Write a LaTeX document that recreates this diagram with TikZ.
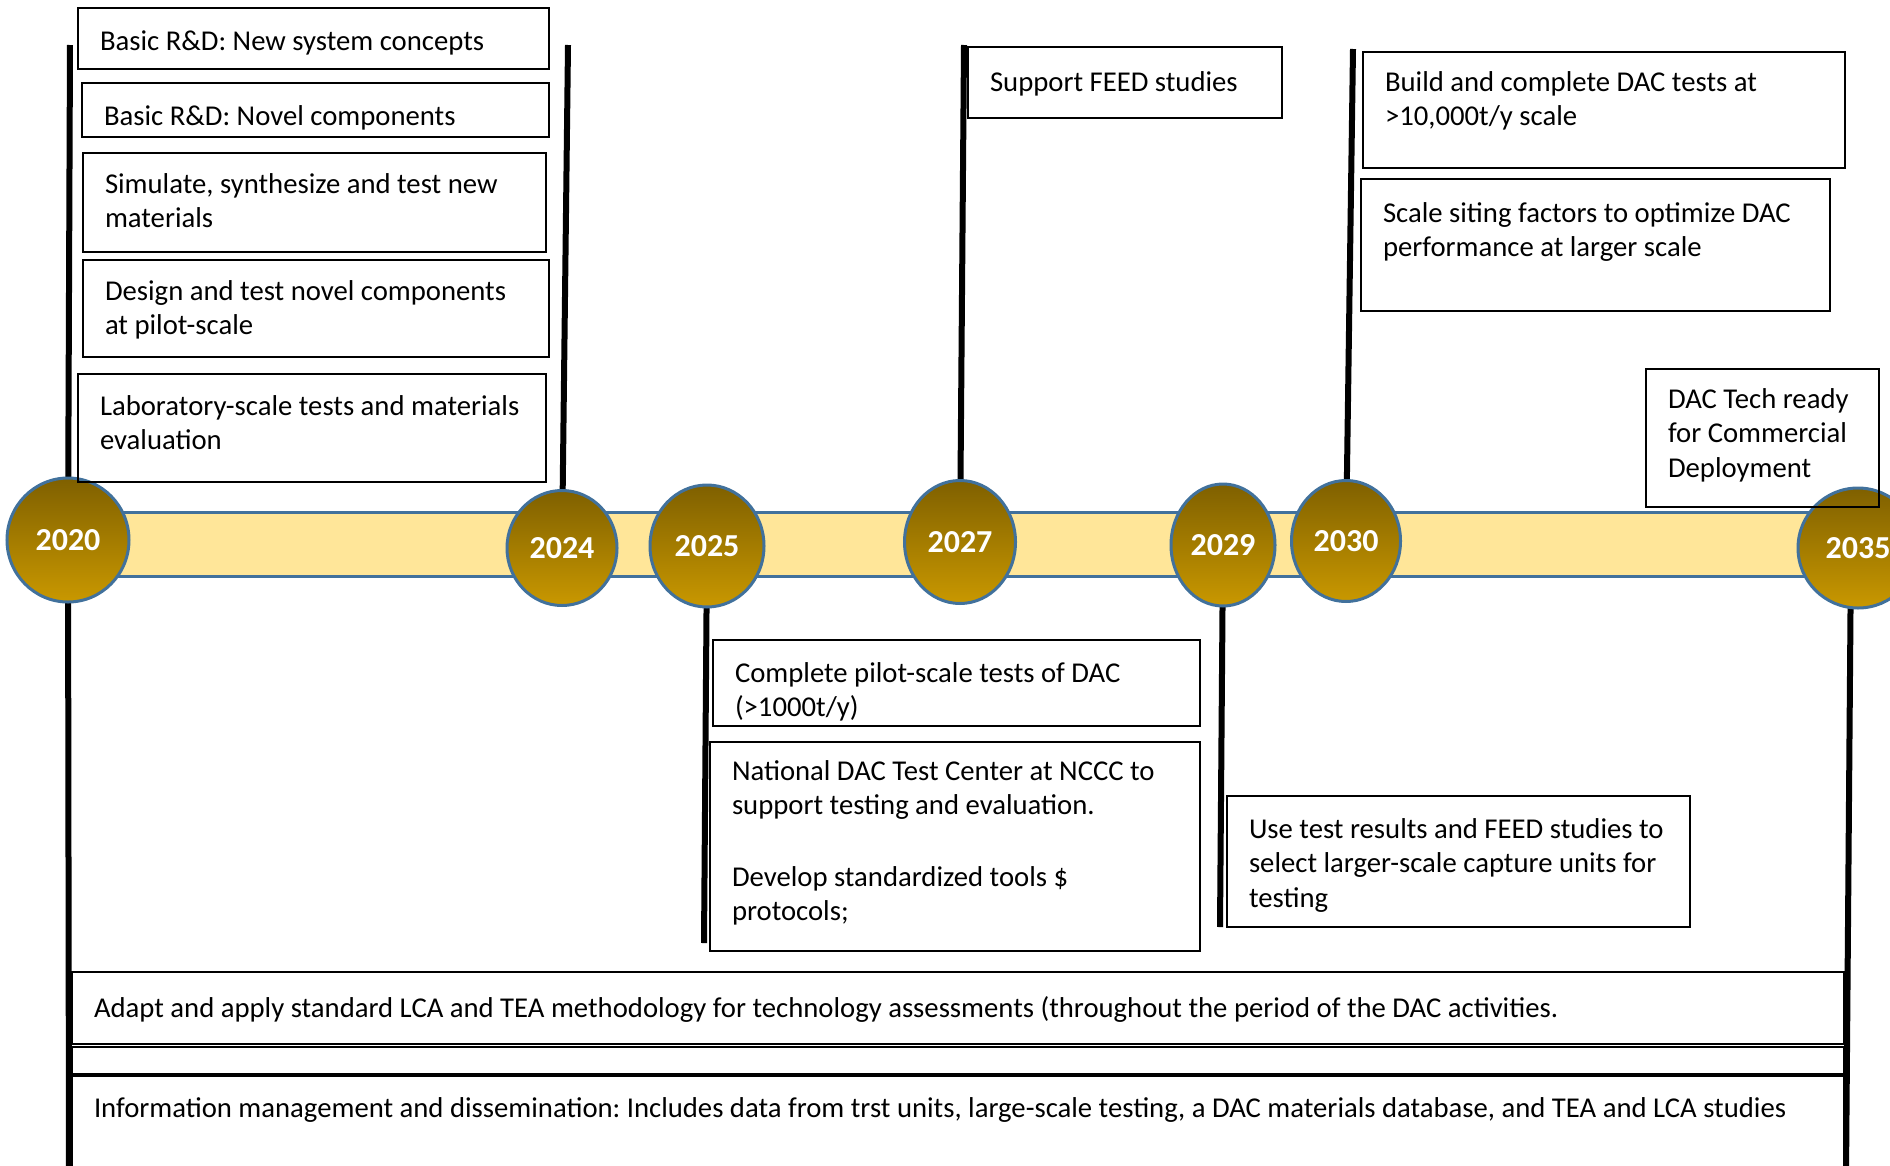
\documentclass[tikz,border=0pt]{standalone}
\usepackage{fontspec}
\setmainfont{Carlito}
\usetikzlibrary{shapes.geometric,backgrounds}
\definecolor{trackfill}{RGB}{255,230,153}
\definecolor{trackline}{RGB}{65,113,156}
\definecolor{balltop}{RGB}{127,96,0}
\definecolor{ballbot}{RGB}{201,152,0}
\newcommand{\boxfont}{\fontsize{28.7}{34.5}\selectfont}
\newcommand{\yearfont}{\fontsize{32}{38}\selectfont\bfseries}
\begin{document}
\begin{tikzpicture}[x=1pt,y=-1pt,
    box/.style={draw,line width=2.5pt,inner xsep=22pt,inner ysep=0pt,outer sep=0pt,
      anchor=north west,align=left,font=\boxfont,
      execute at begin node={\spaceskip=.226em\xspaceskip=.226em\relax}},
    yearball/.style={ellipse,draw=trackline,line width=3pt,top color=balltop,
      bottom color=ballbot,inner sep=0pt,text=white,font=\yearfont},
    stem/.style={line width=6pt}]
    \useasboundingbox (0,0) rectangle (1890,1165);
    \clip (0,0) rectangle (1890,1165);
    % time line
    \node[draw=trackline,fill=trackfill,line width=3pt,minimum width=1789pt,
      minimum height=64pt,inner sep=0pt,anchor=west] (track) at (69,544) {};
    \node[yearball,minimum width=122pt,minimum height=124pt] (y2020) at (68,540) {2020};
    \node[yearball,minimum width=110pt,minimum height=115pt] (y2024) at (562,548) {2024};
    \node[yearball,minimum width=114pt,minimum height=122pt] (y2025) at (707,546) {2025};
    \node[yearball,minimum width=111pt,minimum height=123pt] (y2027) at (960,542) {2027};
    \node[yearball,minimum width=104pt,minimum height=122pt] (y2029) at (1223,545) {2029};
    \node[yearball,minimum width=109pt,minimum height=121pt] (y2030) at (1346,541) {2030};
    \node[yearball,minimum width=120pt,minimum height=120pt] (y2035) at (1858,548) {2035};
    % 2020 - 2024
    \node[box,text width=427pt,text height=42pt,text depth=19pt] (rdsys) at (78,8)
      {Basic R\&D: New system concepts};
    \node[box,text width=423pt,text height=42pt,text depth=12pt] (rdcomp) at (82,83)
      {Basic R\&D: Novel components};
    \node[box,text width=419pt,text height=40pt,text depth=59pt] (simul) at (83,153)
      {Simulate, synthesize and test new\\materials};
    \node[box,text width=422pt,text height=40pt,text depth=57pt] (design) at (83,260)
      {Design and test novel components\\at pilot-scale};
    \node[box,text width=424pt,text height=41pt,text depth=67pt] (labtest) at (78,374)
      {Laboratory-scale tests and materials\\evaluation};
    % 2025
    \node[box,text width=443pt,text height=42pt,text depth=44pt] (pilot) at (713,640)
      {Complete pilot-scale tests of DAC\\(>1000t/y)};
    \node[box,text width=446pt,text height=38pt,text depth=171pt] (center) at (710,742)
      {National DAC Test Center at NCCC to\\support testing and evaluation.\\[37pt]Develop standardized tools \$\\protocols;};
    % 2027 - 2030
    \node[box,text width=270pt,text height=44pt,text depth=27pt] (feed) at (968,47)
      {Support FEED studies};
    \node[box,text width=419pt,text height=42pt,text depth=89pt] (select) at (1227,796)
      {Use test results and FEED studies to\\select larger-scale capture units for\\testing};
    \node[box,text width=438pt,text height=39pt,text depth=77pt] (build) at (1363,52)
      {Build and complete DAC tests at\\>10,000t/y scale};
    \node[box,text width=425pt,text height=43pt,text depth=89pt] (siting) at (1361,179)
      {Scale siting factors to optimize DAC\\performance at larger scale};
    \node[box,text width=189pt,text height=39pt,text depth=99pt] (ready) at (1646,369)
      {DAC Tech ready\\for Commercial\\Deployment};
    % whole period
    \node[box,text width=1728pt,text height=45pt,text depth=27pt] (lca) at (72,972)
      {Adapt and apply standard LCA and TEA methodology for technology assessments (throughout the period of the DAC activities.};
    \node[box,minimum width=1772pt,minimum height=27pt,inner sep=0pt] (gap) at (72,1047) {};
    \node[box,text width=1728pt,text height=41pt,text depth=83pt] (info) at (72,1076)
      {Information management and dissemination: Includes data from trst units, large-scale testing, a DAC materials database, and TEA and LCA studies};
    % stems
    \coordinate (top2020) at (70,45);
    \coordinate (bot2020) at (69,1175);
    \coordinate (top2024) at (568,45);
    \coordinate (bot2025) at (704,943);
    \coordinate (top2027) at (964,45);
    \coordinate (bot2029) at (1220,927);
    \coordinate (top2030) at (1353,49);
    \coordinate (bot2035) at (1846,1175);
    \begin{scope}[on background layer]
      \draw[stem] (top2020) -- (y2020.center) -- (bot2020);
      \draw[stem] (top2024) -- (y2024.center);
      \draw[stem] (y2025.center) -- (bot2025);
      \draw[stem] (top2027) -- (y2027.center);
      \draw[stem] (y2029.center) -- (bot2029);
      \draw[stem] (top2030) -- (y2030.center);
      \draw[stem] ([xshift=-7pt]y2035.center) -- (bot2035);
    \end{scope}
\end{tikzpicture}
\end{document}
